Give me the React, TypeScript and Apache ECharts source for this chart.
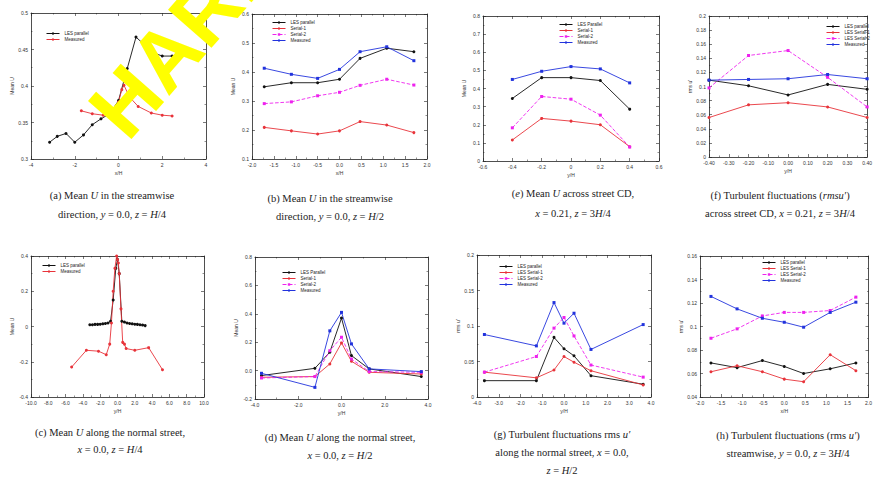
import React, { useEffect, useRef } from "react";
import * as echarts from "echarts";

// ---------- (a) Mean U streamwise, z = H/4 ----------
const A_X_TICKS = [-4, -2, 0, 2, 4];
const A_Y_TICKS = [0.3, 0.35, 0.4, 0.45, 0.5];
const A_LES_X = [-3.15, -2.8, -2.4, -2.0, -1.6, -1.2, -0.8, -0.4, 0, 0.4, 0.8, 1.2, 1.65, 2.0, 2.45, 3.2];
const A_LES_Y = [0.323, 0.331, 0.335, 0.323, 0.333, 0.347, 0.355, 0.362, 0.38, 0.424, 0.467, 0.456, 0.445, 0.441, 0.441, 0.449];
const A_MEAS_X = [-1.7, -1.2, -0.7, -0.3, 0, 0.15, 0.25, 0.5, 0.9, 1.5, 2.0, 2.45];
const A_MEAS_Y = [0.366, 0.362, 0.36, 0.366, 0.378, 0.395, 0.401, 0.385, 0.372, 0.363, 0.36, 0.359];

// ---------- (b) Mean U streamwise, z = H/2 ----------
const B_X_TICKS = [-2, -1.5, -1, -0.5, 0, 0.5, 1, 1.5, 2];
const B_Y_TICKS = [0.1, 0.2, 0.3, 0.4, 0.5, 0.6];
const B_X = [-1.72, -1.1, -0.5, 0, 0.47, 1.08, 1.7];
const B_LES = [0.349, 0.363, 0.363, 0.375, 0.447, 0.482, 0.47];
const B_S1 = [0.209, 0.197, 0.186, 0.197, 0.229, 0.217, 0.191];
const B_S2 = [0.291, 0.297, 0.318, 0.33, 0.354, 0.375, 0.355];
const B_MEAS = [0.413, 0.392, 0.378, 0.409, 0.47, 0.487, 0.439];

// ---------- (e) Mean U across street CD ----------
const E_X_TICKS = [-0.6, -0.4, -0.2, 0, 0.2, 0.4, 0.6];
const E_Y_TICKS = [0, 0.1, 0.2, 0.3, 0.4, 0.5, 0.6, 0.7, 0.8];
const E_X = [-0.4, -0.2, 0, 0.2, 0.4];
const E_LES = [0.345, 0.46, 0.46, 0.444, 0.286];
const E_S1 = [0.116, 0.235, 0.22, 0.2, 0.079];
const E_S2 = [0.183, 0.356, 0.341, 0.253, 0.077];
const E_MEAS = [0.45, 0.495, 0.521, 0.508, 0.431];

// ---------- (f) rms u' across street CD ----------
const F_X_TICKS = [-0.4, -0.3, -0.2, -0.1, 0, 0.1, 0.2, 0.3, 0.4];
const F_Y_TICKS = [0, 0.02, 0.04, 0.06, 0.08, 0.1, 0.12, 0.14, 0.16, 0.18, 0.2];
const F_X = [-0.4, -0.2, 0, 0.2, 0.4];
const F_LES = [0.109, 0.101, 0.088, 0.103, 0.096];
const F_S1 = [0.056, 0.074, 0.077, 0.071, 0.056];
const F_S2 = [0.098, 0.144, 0.151, 0.113, 0.071];
const F_MEAS = [0.109, 0.11, 0.111, 0.117, 0.111];

// ---------- (c) Mean U along normal street, z = H/4 ----------
const C_X_TICKS = [-10, -8, -6, -4, -2, 0, 2, 4, 6, 8, 10];
const C_Y_TICKS = [-0.4, -0.2, 0, 0.2, 0.4];
const C_LES_X = [-3.2, -2.9, -2.6, -2.3, -2.0, -1.7, -1.4, -1.1, -0.8, -0.5, -0.2, 0, 0.2, 0.5, 0.8, 1.1, 1.4, 1.7, 2.0, 2.3, 2.6, 2.9, 3.2];
const C_LES_Y = [0.01, 0.01, 0.012, 0.012, 0.013, 0.015, 0.017, 0.02, 0.03, 0.15, 0.33, 0.38, 0.3, 0.03, 0.025, 0.02, 0.017, 0.015, 0.013, 0.012, 0.01, 0.008, 0.005];
const C_MEAS_X = [-5.3, -3.6, -2.2, -1.3, -0.9, -0.7, -0.5, -0.3, -0.1, 0, 0.1, 0.2, 0.4, 0.6, 0.8, 1.0, 2.0, 3.6, 5.2];
const C_MEAS_Y = [-0.23, -0.135, -0.14, -0.16, -0.1, 0.02, 0.2, 0.33, 0.4, 0.38, 0.36, 0.3, 0.1, -0.09, -0.1, -0.125, -0.135, -0.12, -0.245];

// ---------- (d) Mean U along normal street, z = H/2 ----------
const D_X_TICKS = [-4, -2, 0, 2, 4];
const D_Y_TICKS = [-0.2, 0, 0.2, 0.4, 0.6, 0.8];
const D_X = [-3.7, -1.23, -0.54, 0, 0.46, 1.28, 3.69];
const D_LES = [-0.035, 0.016, 0.13, 0.37, 0.106, 0.012, -0.042];
const D_S1 = [-0.047, -0.042, 0.047, 0.195, 0.066, -0.012, -0.024];
const D_S2 = [-0.052, -0.042, 0.14, 0.235, 0.082, -0.007, -0.012];
const D_MEAS = [-0.019, -0.118, 0.28, 0.41, 0.188, 0.012, -0.007];

// ---------- (g) rms u' along normal street ----------
const G_X_TICKS = [-4, -3, -2, -1, 0, 1, 2, 3, 4];
const G_Y_TICKS = [0, 0.05, 0.1, 0.15, 0.2];
const G_X = [-3.66, -1.27, -0.46, 0, 0.46, 1.24, 3.64];
const G_LES = [0.023, 0.023, 0.084, 0.068, 0.058, 0.03, 0.018];
const G_S1 = [0.035, 0.027, 0.038, 0.057, 0.049, 0.037, 0.017];
const G_S2 = [0.035, 0.057, 0.097, 0.112, 0.086, 0.045, 0.028];
const G_MEAS = [0.088, 0.072, 0.133, 0.104, 0.118, 0.067, 0.102];

// ---------- (h) rms u' streamwise ----------
const H_X_TICKS = [-2, -1.5, -1, -0.5, 0, 0.5, 1, 1.5, 2];
const H_Y_TICKS = [0.04, 0.06, 0.08, 0.1, 0.12, 0.14, 0.16];
const H_X = [-1.74, -1.12, -0.52, 0, 0.46, 1.09, 1.7];
const H_LES = [0.069, 0.065, 0.071, 0.066, 0.06, 0.064, 0.069];
const H_S1 = [0.0615, 0.0666, 0.0615, 0.0552, 0.053, 0.076, 0.0624];
const H_S2 = [0.09, 0.098, 0.109, 0.112, 0.112, 0.1136, 0.125];
const H_MEAS = [0.1256, 0.115, 0.107, 0.1036, 0.0994, 0.112, 0.1207];

// ---------- styles ----------
const BLACK = "#111111";
const RED = "#e8333a";
const MAGENTA = "#ee22ee";
const BLUE = "#2233dd";

const KIND: Record<string, { color: string; type: string; symbol: string }> = {
  les: { color: BLACK, type: "solid", symbol: "circle" },
  s1: { color: RED, type: "solid", symbol: "circle" },
  s2: { color: MAGENTA, type: "dashed", symbol: "rect" },
  measBlue: { color: BLUE, type: "solid", symbol: "rect" },
  measRed: { color: RED, type: "solid", symbol: "circle" },
};

type S = { name: string; kind: string; xs: number[]; ys: number[] };
type Panel = {
  grid: { left: number; top: number; width: number; height: number };
  xTicks: number[];
  yTicks: number[];
  xDec?: number;
  yDec?: number;
  xName: string;
  yName: string;
  series: S[];
  legend: { left: number; top: number };
};

const PANELS: Panel[] = [
  {
    grid: { left: 31, top: 13, width: 175, height: 146 },
    xTicks: A_X_TICKS, yTicks: A_Y_TICKS, xName: "x/H", yName: "Mean U",
    series: [
      { name: "LES parallel", kind: "les", xs: A_LES_X, ys: A_LES_Y },
      { name: "Measured", kind: "measRed", xs: A_MEAS_X, ys: A_MEAS_Y },
    ],
    legend: { left: 46, top: 31 },
  },
  {
    grid: { left: 252, top: 14, width: 175, height: 145 },
    xTicks: B_X_TICKS, yTicks: B_Y_TICKS, xDec: 1, xName: "x/H", yName: "Mean U",
    series: [
      { name: "LES parallel", kind: "les", xs: B_X, ys: B_LES },
      { name: "Serial-1", kind: "s1", xs: B_X, ys: B_S1 },
      { name: "Serial-2", kind: "s2", xs: B_X, ys: B_S2 },
      { name: "Measured", kind: "measBlue", xs: B_X, ys: B_MEAS },
    ],
    legend: { left: 272, top: 20 },
  },
  {
    grid: { left: 483, top: 16, width: 176, height: 145 },
    xTicks: E_X_TICKS, yTicks: E_Y_TICKS, xName: "y/H", yName: "Mean U",
    series: [
      { name: "LES Parallel", kind: "les", xs: E_X, ys: E_LES },
      { name: "Serial-1", kind: "s1", xs: E_X, ys: E_S1 },
      { name: "Serial-2", kind: "s2", xs: E_X, ys: E_S2 },
      { name: "Measured", kind: "measBlue", xs: E_X, ys: E_MEAS },
    ],
    legend: { left: 559, top: 22 },
  },
  {
    grid: { left: 709, top: 16, width: 168, height: 141 },
    xTicks: F_X_TICKS, yTicks: F_Y_TICKS, xDec: 2, xName: "y/H", yName: "rms u'",
    series: [
      { name: "LES parallel", kind: "les", xs: F_X, ys: F_LES },
      { name: "LES Serial-1", kind: "s1", xs: F_X, ys: F_S1 },
      { name: "LES Serial-2", kind: "s2", xs: F_X, ys: F_S2 },
      { name: "Measured", kind: "measBlue", xs: F_X, ys: F_MEAS },
    ],
    legend: { left: 826, top: 24 },
  },
  {
    grid: { left: 31, top: 256, width: 173, height: 141 },
    xTicks: C_X_TICKS, yTicks: C_Y_TICKS, xDec: 1, xName: "y/H", yName: "Mean U",
    series: [
      { name: "LES parallel", kind: "les", xs: C_LES_X, ys: C_LES_Y },
      { name: "Measured", kind: "measRed", xs: C_MEAS_X, ys: C_MEAS_Y },
    ],
    legend: { left: 42, top: 263 },
  },
  {
    grid: { left: 255, top: 257, width: 173, height: 142 },
    xTicks: D_X_TICKS, yTicks: D_Y_TICKS, xDec: 1, yDec: 1, xName: "y/H", yName: "Mean U",
    series: [
      { name: "LES Parallel", kind: "les", xs: D_X, ys: D_LES },
      { name: "Serial-1", kind: "s1", xs: D_X, ys: D_S1 },
      { name: "Serial-2", kind: "s2", xs: D_X, ys: D_S2 },
      { name: "Measured", kind: "measBlue", xs: D_X, ys: D_MEAS },
    ],
    legend: { left: 282, top: 270 },
  },
  {
    grid: { left: 477, top: 255, width: 174, height: 142 },
    xTicks: G_X_TICKS, yTicks: G_Y_TICKS, xDec: 1, xName: "y/H", yName: "rms u'",
    series: [
      { name: "LES parallel", kind: "les", xs: G_X, ys: G_LES },
      { name: "LES Serial-1", kind: "s1", xs: G_X, ys: G_S1 },
      { name: "LES Serial-2", kind: "s2", xs: G_X, ys: G_S2 },
      { name: "Measured", kind: "measBlue", xs: G_X, ys: G_MEAS },
    ],
    legend: { left: 499, top: 264 },
  },
  {
    grid: { left: 700, top: 256, width: 170, height: 141 },
    xTicks: H_X_TICKS, yTicks: H_Y_TICKS, xDec: 1, xName: "x/H", yName: "rms u'",
    series: [
      { name: "LES parallel", kind: "les", xs: H_X, ys: H_LES },
      { name: "LES Serial-1", kind: "s1", xs: H_X, ys: H_S1 },
      { name: "LES Serial-2", kind: "s2", xs: H_X, ys: H_S2 },
      { name: "Measured", kind: "measBlue", xs: H_X, ys: H_MEAS },
    ],
    legend: { left: 762, top: 260 },
  },
];

const CAPTIONS: { cx: number; ys: number[]; lines: string[] }[] = [
  { cx: 112, ys: [195, 214], lines: ["(a) Mean {i|U} in the streamwise", "direction, {i|y} = 0.0, {i|z} = {i|H}/4"] },
  { cx: 330, ys: [198, 216], lines: ["(b) Mean {i|U} in the streamwise", "direction, {i|y} = 0.0, {i|z} = {i|H}/2"] },
  { cx: 573, ys: [193, 213], lines: ["({i|e}) Mean {i|U} across street CD,", "{i|x} = 0.21, {i|z} = 3{i|H}/4"] },
  { cx: 780, ys: [195, 213], lines: ["(f) Turbulent fluctuations ({i|rmsu′})", "across street CD, {i|x} = 0.21, {i|z} = 3{i|H}/4"] },
  { cx: 110, ys: [432, 449], lines: ["(c) Mean {i|U} along the normal street,", "{i|x} = 0.0, {i|z} = {i|H}/4"] },
  { cx: 340, ys: [437, 455], lines: ["(d) Mean {i|U} along the normal street,", "{i|x} = 0.0, {i|z} = {i|H}/2"] },
  { cx: 562, ys: [434, 452, 470], lines: ["(g) Turbulent fluctuations rms {i|u′}", "along the normal street, {i|x} = 0.0,", "{i|z} = {i|H}/2"] },
  { cx: 788, ys: [435, 453], lines: ["(h) Turbulent fluctuations (rms {i|u′})", "streamwise, {i|y} = 0.0, {i|z} = 3{i|H}/4"] },
];

const SERIF = "'Liberation Serif', 'DejaVu Serif', serif";
const SANS = "'Liberation Sans', Arial, sans-serif";
const AX = "#222";

const clean = (v: number) => Math.round(v * 1e9) / 1e9;

function buildOption() {
  const grid: any[] = [];
  const xAxis: any[] = [];
  const yAxis: any[] = [];
  const series: any[] = [];
  const legend: any[] = [];
  const graphic: any[] = [];

  PANELS.forEach((p, i) => {
    grid.push({ ...p.grid, show: false, containLabel: false });
    const xr = { min: p.xTicks[0], max: p.xTicks[p.xTicks.length - 1], interval: clean(p.xTicks[1] - p.xTicks[0]) };
    const yr = { min: p.yTicks[0], max: p.yTicks[p.yTicks.length - 1], interval: clean(p.yTicks[1] - p.yTicks[0]) };
    const common = {
      type: "value",
      gridIndex: i,
      splitLine: { show: false },
      axisLine: { show: true, onZero: false, lineStyle: { color: AX, width: 0.8 } },
      axisTick: { show: true, inside: true, length: 3, lineStyle: { color: AX, width: 0.6 } },
      minorTick: { show: true, splitNumber: 2, length: 1.5, lineStyle: { color: AX, width: 0.5 } },
    };
    const xDec = p.xDec;
    const yDec = p.yDec;
    const xFmt = (v: number) => (xDec !== undefined ? v.toFixed(xDec) : String(clean(v)));
    const yFmt = (v: number) => (yDec !== undefined ? v.toFixed(yDec) : String(clean(v)));
    xAxis.push({
      ...common, ...xr, position: "bottom",
      name: p.xName, nameLocation: "middle", nameGap: 11,
      nameTextStyle: { fontSize: 5, color: "#333", fontFamily: SANS },
      axisLabel: { fontSize: 5, margin: 3, color: "#333", fontFamily: SANS, formatter: xFmt },
    });
    xAxis.push({ ...common, ...xr, position: "top", axisLabel: { show: false } });
    yAxis.push({
      ...common, ...yr, position: "left",
      name: p.yName, nameLocation: "middle", nameGap: 17, nameRotate: 90,
      nameTextStyle: { fontSize: 5, color: "#333", fontFamily: SANS },
      axisLabel: { fontSize: 5, margin: 3, color: "#333", fontFamily: SANS, formatter: yFmt },
    });
    yAxis.push({ ...common, ...yr, position: "right", axisLabel: { show: false } });

    p.series.forEach((s) => {
      const k = KIND[s.kind];
      series.push({
        type: "line",
        name: s.name,
        xAxisIndex: 2 * i,
        yAxisIndex: 2 * i,
        data: s.xs.map((x, j) => [x, s.ys[j]]),
        symbol: k.symbol,
        symbolSize: 3,
        showAllSymbol: true,
        lineStyle: { color: k.color, width: 0.9, type: k.type },
        itemStyle: { color: k.color },
        clip: true,
      });
    });

    legend.push({
      left: p.legend.left,
      top: p.legend.top,
      orient: "vertical",
      padding: 0,
      itemGap: 1,
      itemWidth: 13,
      itemHeight: 3,
      selectedMode: false,
      textStyle: { fontSize: 4.5, color: "#222", fontFamily: SANS },
      data: p.series.map((s) => {
        const k = KIND[s.kind];
        return {
          name: s.name,
          itemStyle: { color: k.color },
          lineStyle: { color: k.color, type: k.type, width: 1 },
        };
      }),
    });
  });

  CAPTIONS.forEach((c) => {
    c.lines.forEach((line, j) => {
      graphic.push({
        type: "text",
        x: c.cx,
        y: c.ys[j],
        style: {
          text: line,
          fill: "#222",
          fontSize: 10.5,
          fontFamily: SERIF,
          textAlign: "center",
          textVerticalAlign: "middle",
          rich: { i: { fontStyle: "italic", fontSize: 10.5, fontFamily: SERIF, fill: "#222" } },
        },
      });
    });
  });

  graphic.push({
    type: "text",
    x: 106,
    y: 124,
    rotation: 0.85,
    z: 100,
    style: {
      text: "HARD",
      fill: "#ffff00",
      fontSize: 84,
      fontWeight: "bold",
      fontFamily: SANS,
      textAlign: "left",
      textVerticalAlign: "middle",
    },
  });

  return {
    animation: false,
    backgroundColor: "#ffffff",
    grid,
    xAxis,
    yAxis,
    series,
    legend,
    graphic,
  };
}

export default function App() {
  const ref = useRef<HTMLDivElement>(null);
  useEffect(() => {
    if (!ref.current) return;
    const chart = echarts.init(ref.current, undefined, { renderer: "svg" });
    chart.setOption(buildOption() as any);
    return () => chart.dispose();
  }, []);
  return (
    <div
      ref={ref}
      style={{ position: "fixed", left: 0, top: 0, width: 875, height: 480, background: "#fff" }}
    />
  );
}
